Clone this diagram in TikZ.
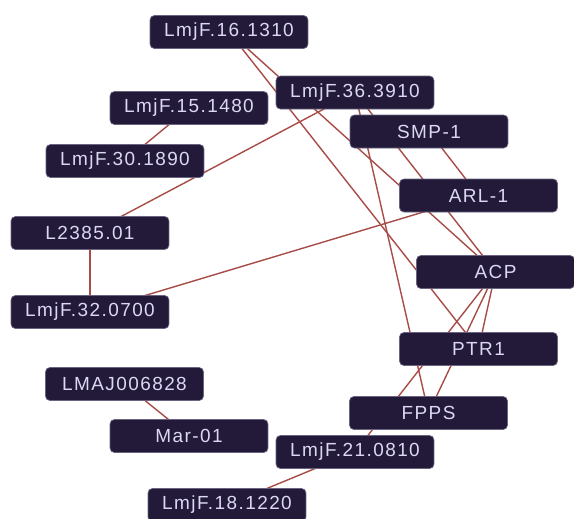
\documentclass[tikz,border=0pt]{standalone}
\usepackage{fontspec}
\setmainfont{Liberation Sans}[LetterSpace=7.5]
\usepackage{xcolor}
\usetikzlibrary{backgrounds}
\definecolor{genefill}{HTML}{221A38}
\definecolor{geneline}{HTML}{6A6480}
\definecolor{genetext}{HTML}{DCD8F2}
\definecolor{link}{HTML}{A84C48}

\begin{document}
\begin{tikzpicture}[x=0.02cm,y=-0.02cm,
  gene/.style={draw=geneline, fill=genefill, text=genetext, rounded corners=2.5pt,
    minimum width=3.16cm, minimum height=0.66cm, inner sep=0pt, line width=0.4pt,
    font=\fontsize{10.8}{12}\selectfont},
  link/.style={draw=link, line width=0.8pt}]
\useasboundingbox (0,0) rectangle (574,518);
% genes
\node[gene] (g16) at (229,32) {LmjF.16.1310};
\node[gene] (g36) at (355,92.5) {LmjF.36.3910};
\node[gene] (g15) at (189,108) {LmjF.15.1480};
\node[gene] (g30) at (125,161) {LmjF.30.1890};
\node[gene] (smp) at (429,131.5) {SMP-1};
\node[gene] (arl) at (478.5,195.5) {ARL-1};
\node[gene] (l23) at (90,233) {L2385.01};
\node[gene] (acp) at (495.5,272) {ACP};
\node[gene] (g32) at (90,312) {LmjF.32.0700};
\node[gene] (ptr) at (478.5,349) {PTR1};
\node[gene] (lmaj) at (124.5,384) {LMAJ006828};
\node[gene] (fpps) at (428.5,413) {FPPS};
\node[gene] (mar) at (189,436) {Mar-01};
\node[gene] (g21) at (355,452) {LmjF.21.0810};
\node[gene] (g18) at (227,505) {LmjF.18.1220};
% interactions
\begin{pgfonlayer}{background}
\draw[link] (g15.center) -- (g30.center);
\draw[link] (l23.center) -- (g36.center);
\draw[link] (l23.center) -- (g32.center);
\draw[link] (g32.center) -- (arl.center);
\draw[link] (g16.center) -- (ptr.center);
\draw[link] (g16.center) -- (acp.center);
\draw[link] (g36.center) -- (fpps.center);
\draw[link] (g36.center) -- (acp.center);
\draw[link] (smp.center) -- (arl.center);
\draw[link] (acp.center) -- (ptr.center);
\draw[link] (acp.center) -- (fpps.center);
\draw[link] (acp.center) -- (g21.center);
\draw[link] (g21.center) -- (g18.center);
\draw[link] (lmaj.center) -- (mar.center);
\end{pgfonlayer}
\end{tikzpicture}
\end{document}
